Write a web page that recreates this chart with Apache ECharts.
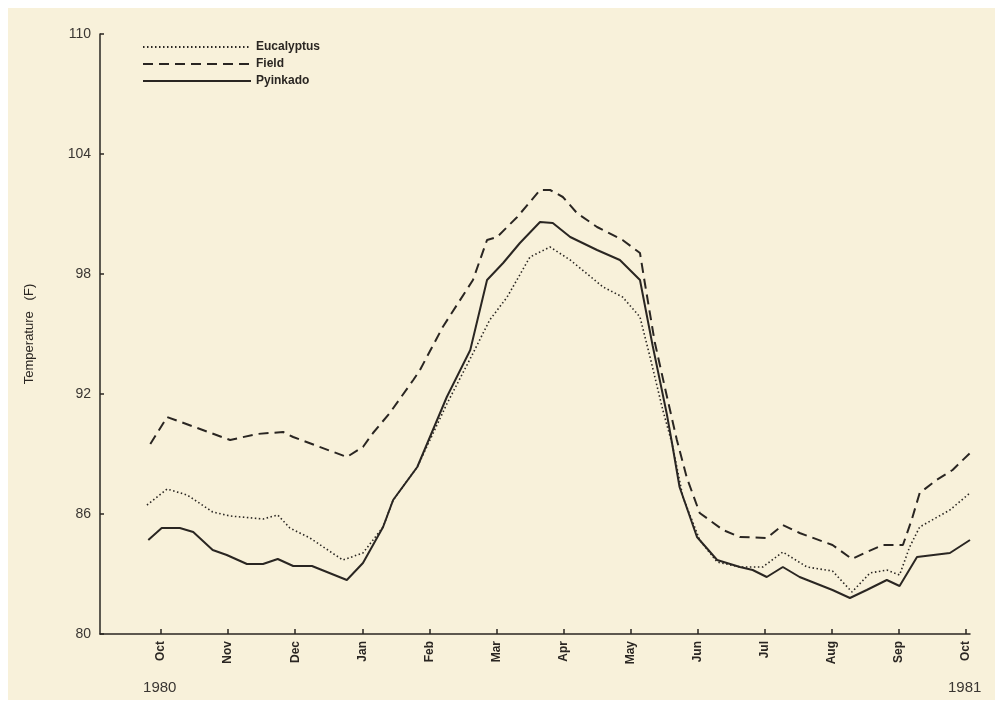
<!DOCTYPE html>
<html>
<head>
<meta charset="utf-8">
<script src="https://cdn.jsdelivr.net/npm/echarts@6/dist/echarts.min.js"></script>
<style>
  html, body { margin: 0; padding: 0; background: #ffffff; }
  #chart { position: absolute; left: 8px; top: 8px; width: 987px; height: 692px; background: #f8f1da; }
</style>
</head>
<body>
<div id="chart"></div>
<script>
// x positions are months after Oct 1980 (0 = Oct 1980, 12 = Oct 1981)
const monthTicks = [0, 1, 2, 3, 4, 5, 6, 7, 8, 9, 10, 11, 12];
const monthLabels = ["Oct", "Nov", "Dec", "Jan", "Feb", "Mar", "Apr", "May", "Jun", "Jul", "Aug", "Sep", "Oct"];
const yearLabels = [{ at: 0, text: "1980" }, { at: 12, text: "1981" }];

const eucalyptusX = [-0.21, 0.09, 0.39, 0.77, 1.03, 1.52, 1.74, 1.92, 2.22, 2.71, 3.01, 3.31, 3.46, 3.82, 4.26, 4.63, 4.90, 5.16, 5.50, 5.80, 6.10, 6.59, 6.88, 7.14, 7.29, 7.48, 7.62, 7.78, 8.03, 8.29, 8.63, 8.97, 9.27, 9.63, 10.01, 10.30, 10.57, 10.82, 11.01, 11.16, 11.31, 11.76, 12.06];
const eucalyptusT = [86.45, 87.25, 86.95, 86.1, 85.9, 85.75, 85.95, 85.3, 84.8, 83.7, 84.05, 85.35, 86.7, 88.35, 91.5, 93.9, 95.7, 96.85, 98.85, 99.35, 98.7, 97.35, 96.85, 95.85, 93.85, 91.2, 89.5, 86.85, 84.7, 83.6, 83.35, 83.35, 84.1, 83.35, 83.15, 82.1, 83.05, 83.2, 82.95, 84.35, 85.35, 86.2, 87.05];

const fieldX = [-0.16, 0.09, 1.03, 1.43, 1.82, 1.97, 2.77, 3.01, 3.16, 3.41, 3.76, 3.86, 4.20, 4.65, 4.86, 5.01, 5.31, 5.65, 5.80, 5.99, 6.20, 6.50, 6.88, 7.14, 7.21, 7.36, 7.54, 7.69, 7.84, 8.03, 8.38, 8.63, 9.03, 9.27, 9.52, 10.01, 10.30, 10.52, 10.76, 11.06, 11.19, 11.31, 11.56, 11.80, 12.06];
const fieldT = [89.5, 90.85, 89.7, 90.0, 90.1, 89.85, 88.85, 89.35, 90.05, 91.05, 92.7, 93.2, 95.35, 97.7, 99.7, 99.85, 100.85, 102.2, 102.2, 101.85, 101.05, 100.35, 99.7, 99.05, 97.6, 94.6, 91.9, 89.7, 87.8, 86.05, 85.2, 84.85, 84.8, 85.45, 85.05, 84.45, 83.75, 84.1, 84.45, 84.45, 85.7, 87.05, 87.7, 88.2, 89.05];

const pyinkadoX = [-0.19, 0.01, 0.28, 0.48, 0.77, 0.98, 1.28, 1.52, 1.74, 1.97, 2.25, 2.77, 3.01, 3.31, 3.46, 3.82, 4.26, 4.61, 4.86, 5.10, 5.35, 5.65, 5.84, 6.10, 6.50, 6.84, 7.14, 7.33, 7.54, 7.62, 7.73, 7.99, 8.29, 8.63, 8.82, 9.03, 9.27, 9.52, 10.01, 10.27, 10.52, 10.82, 11.01, 11.27, 11.76, 12.06];
const pyinkadoT = [84.7, 85.3, 85.3, 85.1, 84.2, 83.95, 83.5, 83.5, 83.75, 83.4, 83.4, 82.7, 83.55, 85.35, 86.7, 88.35, 91.85, 94.2, 97.7, 98.55, 99.55, 100.6, 100.55, 99.85, 99.2, 98.7, 97.7, 94.4, 91.0, 89.5, 87.35, 84.85, 83.7, 83.35, 83.2, 82.85, 83.35, 82.85, 82.2, 81.8, 82.2, 82.7, 82.4, 83.85, 84.05, 84.7];

function pairs(xs, ys) {
  return xs.map((x, i) => [x, ys[i]]);
}

const ink = "#2a2622";
const font = "Liberation Sans";

var chart = echarts.init(document.getElementById("chart"));

var option = {
  animation: false,
  grid: { left: 92, right: 25, top: 26, bottom: 66 },
  legend: {
    orient: "vertical",
    left: 129,
    top: 28,
    itemWidth: 108,
    itemHeight: 14,
    itemGap: 5,
    itemStyle: { opacity: 0 },
    textStyle: { color: ink, fontFamily: font, fontSize: 12, fontWeight: "bold" },
    data: ["Eucalyptus", "Field", "Pyinkado"]
  },
  xAxis: {
    type: "value",
    min: -0.91,
    max: 12.06,
    splitLine: { show: false },
    axisLine: { onZero: false, lineStyle: { color: ink, width: 1.5 } },
    axisTick: { customValues: monthTicks, inside: true, length: 5, lineStyle: { color: ink, width: 1.5 } },
    axisLabel: {
      customValues: monthTicks,
      rotate: 90,
      margin: 7,
      color: ink,
      fontFamily: font,
      fontSize: 12,
      fontWeight: "bold",
      formatter: (v) => monthLabels[monthTicks.indexOf(Math.round(v))]
    }
  },
  yAxis: {
    type: "value",
    min: 80,
    max: 110,
    interval: 6,
    splitLine: { show: false },
    axisLine: { show: true, onZero: false, lineStyle: { color: ink, width: 1.5 } },
    axisTick: { show: true, inside: true, length: 4, lineStyle: { color: ink, width: 1.5 } },
    axisLabel: { color: "#3a3632", fontFamily: font, fontSize: 14, margin: 9 },
    name: "Temperature   (F)",
    nameLocation: "middle",
    nameGap: 64,
    nameTextStyle: { color: ink, fontFamily: font, fontSize: 13 }
  },
  series: [
    {
      name: "Eucalyptus",
      type: "line",
      symbol: "none",
      data: pairs(eucalyptusX, eucalyptusT),
      lineStyle: { color: ink, width: 1.6, type: [1.5, 2.5] },
      itemStyle: { color: ink }
    },
    {
      name: "Field",
      type: "line",
      symbol: "none",
      data: pairs(fieldX, fieldT),
      lineStyle: { color: ink, width: 2, type: [10, 6] },
      itemStyle: { color: ink }
    },
    {
      name: "Pyinkado",
      type: "line",
      symbol: "none",
      data: pairs(pyinkadoX, pyinkadoT),
      lineStyle: { color: ink, width: 2 },
      itemStyle: { color: ink }
    }
  ]
};

chart.setOption(option);

// year captions under the first and last Oct ticks
const yearGraphics = yearLabels.map((y) => {
  const p = chart.convertToPixel({ gridIndex: 0 }, [y.at, 80]);
  return {
    type: "text",
    left: p[0] - 18,
    top: p[1] + 46,
    style: { text: y.text, fill: "#3a3632", font: "15px " + font }
  };
});
chart.setOption({ graphic: yearGraphics });
</script>
</body>
</html>
